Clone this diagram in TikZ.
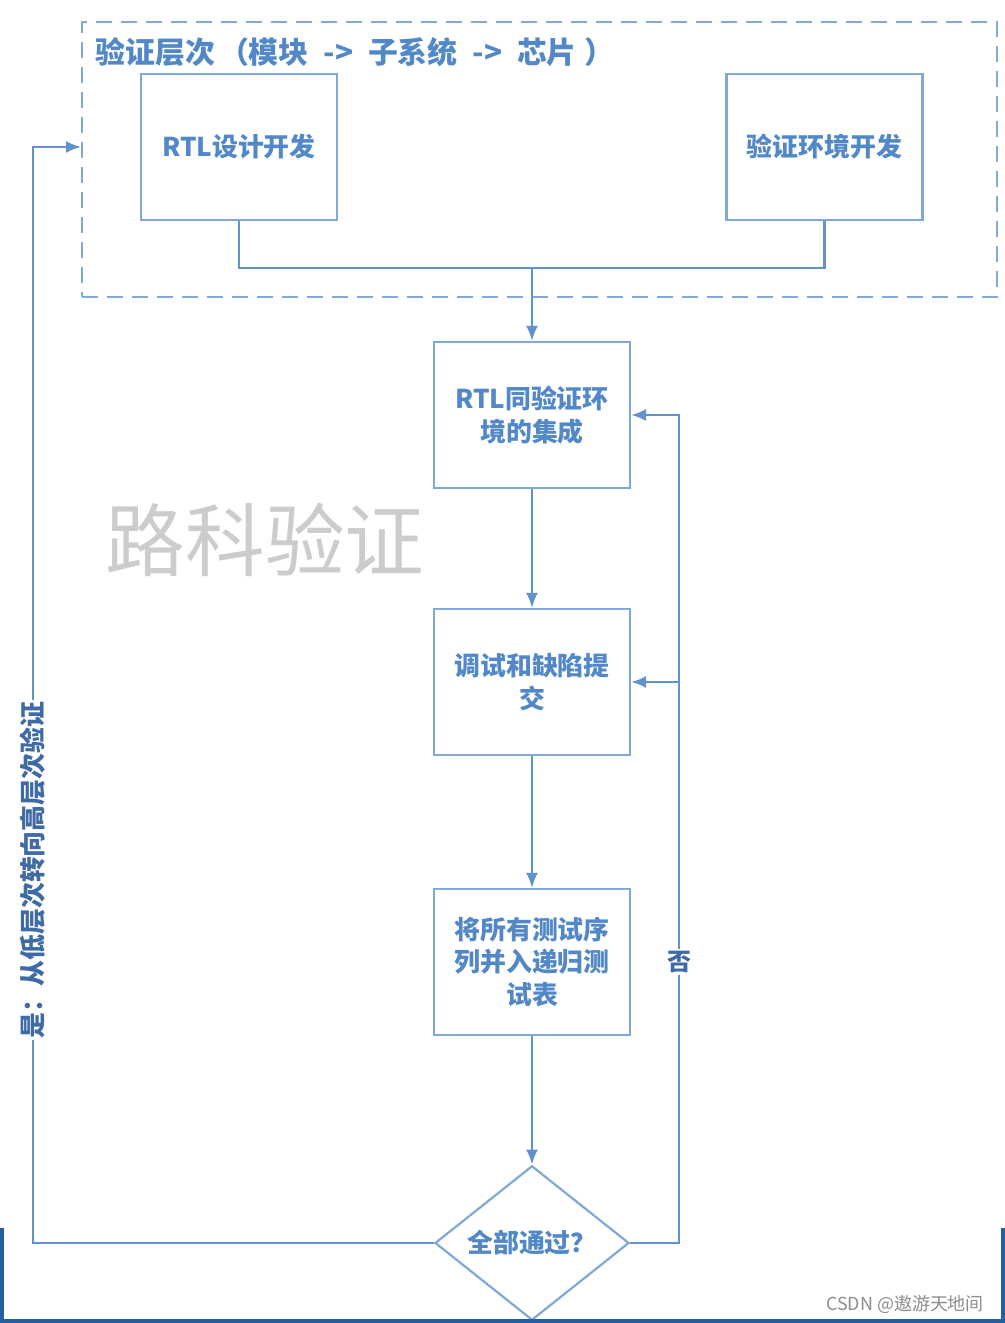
\documentclass[tikz,border=0pt]{standalone}
\usepackage{fontspec}
\setmainfont{Noto Sans CJK SC}
\usetikzlibrary{shapes.geometric,arrows.meta}
\definecolor{boxline}{RGB}{128,168,216}
\definecolor{wireline}{RGB}{96,146,206}
\definecolor{labeltext}{RGB}{82,136,200}
\definecolor{sidetext}{RGB}{62,106,166}
\definecolor{framedark}{RGB}{36,96,160}
\tikzset{
  stage/.style={draw=boxline,line width=2.2bp,rectangle,minimum width=196bp,minimum height=146bp,inner sep=0pt,align=center,text=labeltext,font=\fontsize{26}{33}\selectfont\bfseries},
  decide/.style={draw=boxline,line width=2.2bp,diamond,minimum width=194bp,minimum height=146bp,inner sep=0pt,text=labeltext,font=\fontsize{26}{33}\selectfont\bfseries},
  wire/.style={draw=wireline,line width=2.2bp},
}
\begin{document}
\begin{tikzpicture}[>={Latex[length=15bp,width=12bp]},line join=miter,]
%%
\useasboundingbox (0bp,0bp) rectangle (1005bp,1323bp);
\node (levels) at (539.5bp,1163.5bp) [draw=boxline,line width=2bp,dash pattern=on 16bp off 9bp,rectangle,minimum width=915bp,minimum height=275bp] {};
  \node (levels_title) at (92bp,1271bp) [anchor=west,text=labeltext,font=\fontsize{30}{30}\selectfont\bfseries] {验证层次\hspace{4bp}（模块\hspace{8bp} ->\hspace{8bp} 子系统\hspace{8bp} ->\hspace{8bp} 芯片\hspace{8bp}）};
  \node (rtl_dev) at (239bp,1176bp) [stage] {RTL设计开发};
  \node (env_dev) at (824.5bp,1176bp) [stage] {验证环境开发};
  \node (integ) at (532bp,908bp) [stage] {RTL同验证环\\境的集成};
  \node (debug) at (532bp,641bp) [stage] {调试和缺陷提\\交};
  \node (regress) at (532bp,361bp) [stage] {将所有测试序\\列并入递归测\\试表};
  \node (check) at (532bp,80bp) [decide] {全部通过？};
  \node (mark) at (265bp,783bp) [text=black!20,font=\fontsize{80}{80}\selectfont] {路科验证};
  \node (credit) at (905bp,18bp) [text=black!45,font=\fontsize{18}{18}\selectfont] {CSDN @遨游天地间};
  \coordinate (join_l) at (239bp,1055bp);
  \coordinate (join_m) at (532bp,1055bp);
  \coordinate (join_r) at (824.5bp,1055bp);
  \coordinate (loop_b) at (679bp,80bp);
  \coordinate (loop_m) at (679bp,641bp);
  \coordinate (loop_t) at (679bp,908bp);
  \coordinate (back_b) at (33bp,80bp);
  \coordinate (back_t) at (33bp,1176bp);
  \draw [wire] (rtl_dev) -- (join_l) -- (join_r) -- (env_dev);
  \draw [wire,->] (join_m) -- (integ);
  \draw [wire,->] (integ) -- (debug);
  \draw [wire,->] (debug) -- (regress);
  \draw [wire,->] (regress) -- (check);
  \draw [wire,->] (check.east) -- (loop_b) -- (loop_t) -- (integ.east);
  \draw [wire,->] (loop_m) -- (debug.east);
  \draw [wire,->] (check.west) -- (back_b) -- (back_t) -- (back_t -| levels.west);
  \node (no) at (679bp,361bp) [fill=white,inner sep=2bp,text=sidetext,font=\fontsize{24}{24}\selectfont\bfseries] {否};
  \node (yes) at (33bp,453bp) [rotate=90,fill=white,inner sep=2bp,text=sidetext,font=\fontsize{26}{26}\selectfont\bfseries] {是：从低层次转向高层次验证};
  \draw [framedark,line width=4bp] (2bp,95bp) -- (2bp,2bp) -- (1003bp,2bp) -- (1003bp,95bp);
%
\end{tikzpicture}
\end{document}
